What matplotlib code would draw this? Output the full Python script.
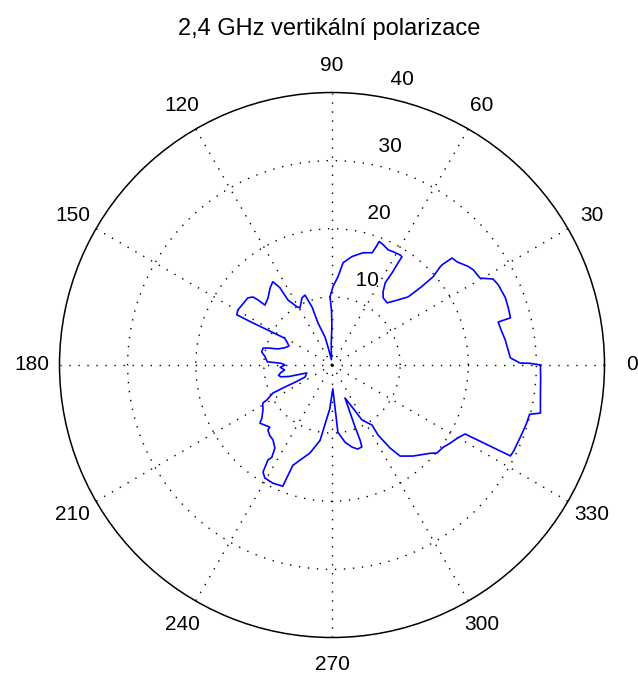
import numpy as np
import matplotlib.pyplot as plt
from matplotlib.transforms import offset_copy

# namerene hodnoty (uhel ve stupnich, zisk)
uhel = [0, 0.5, 0.6, 2.3, 8.2, 12.4, 14.5, 14.8, 17.9, 21.2, 22.9, 25.7, 28.1,
        30.4, 34, 35.8, 39.5, 41.7, 42.3, 42.2, 41.1, 41.2, 41.8, 44.6, 48.4,
        52.7, 55.1, 57.1, 56.9, 57.1, 57.1, 58.3, 61.6, 64, 67, 69.1, 69.5,
        70.3, 74.5, 79.5, 83.8, 86.1, 89.3, 91.7, 90.5, 90.2, 92, 96, 102.5,
        104, 108.4, 109, 111.1, 114.1, 119.3, 121.1, 124.1, 124, 125.4, 128.8,
        133.7, 138.2, 138.7, 139.3, 141.4, 149.7, 152.2, 152, 150.5, 153,
        156.2, 160.1, 163.5, 165.1, 166.2, 169.5, 173, 177.2, 178, 180, 182.5,
        186, 188.5, 191, 193, 195, 196, 197.4, 204, 205, 205.1, 205.4, 208.3,
        208.8, 213.1, 217.1, 218.9, 225, 225.4, 228.5, 231.8, 235.5, 236.9,
        236, 237.2, 239.3, 243.4, 247.9, 248.7, 256, 261, 267, 272, 275,
        277.8, 279.6, 283.7, 287, 290, 290.5, 290.4, 291.5, 295.5, 298.6,
        303.7, 303.3, 305, 306.8, 311.7, 318.1, 320, 323.5, 326.5, 329.7,
        332.6, 333, 334.6, 339, 343, 346, 347, 352, 356, 360]
zisk = [30.6, 29.0, 27.6, 26.2, 25.7, 25.3, 25.2, 27.1, 27.2, 27.3, 27.2, 27.1,
        26.8, 25.2, 25.0, 24.7, 23.8, 23.6, 21.9, 21.4, 19.7, 17.2, 15.0, 13.6,
        12.2, 12.4, 13.1, 14.4, 16.2, 17.9, 18.9, 19.0, 18.9, 18.8, 19.2, 19.4,
        18.6, 17.5, 17.1, 16.2, 15.1, 13.0, 11.5, 10.0, 8.0, 5.6, 3.2, 0.8,
        2.7, 4.2, 6.5, 9.0, 11.0, 10.8, 9.6, 10.0, 11.5, 13.7, 15.0, 14.5,
        13.6, 13.2, 14.5, 15.3, 15.8, 16.0, 15.8, 13.2, 8.0, 7.4, 6.9, 7.4,
        8.3, 9.7, 10.4, 10.5, 9.9, 9.5, 7.5, 6.9, 7.6, 7.0, 7.6, 8.0, 7.7,
        6.5, 5.0, 3.9, 4.3, 5.8, 8.0, 9.6, 10.9, 11.6, 12.1, 12.9, 13.6, 12.9,
        13.4, 13.8, 14.0, 14.8, 16.2, 16.8, 18.7, 19.3, 19.4, 19.2, 15.8,
        13.3, 11.2, 6.5, 3.5, 9.9, 10.8, 11.5, 12.4, 12.9, 12.8, 11.8, 9.7,
        5.2, 6.8, 9.2, 10.6, 12.3, 14.9, 16.7, 17.9, 19.4, 20.1, 20.3, 20.8,
        21.3, 22.0, 29.4, 29.5, 29.6, 29.8, 29.9, 31.4, 30.9, 30.7, 30.6]

popisky_uhlu = [0, 30, 60, 90, 120, 150, 180, 210, 240, 270, 300, 330]
kruhy = [10, 20, 30, 40]

plt.rcParams['font.family'] = ['Liberation Sans', 'DejaVu Sans']

fig = plt.figure(figsize=(6.38, 6.74), dpi=100)
ax = fig.add_axes([59.5 / 638, 36.5 / 674, 545 / 638, 545 / 674], projection='polar')

ax.plot(np.deg2rad(uhel), zisk, color='#0000ff', lw=1.2)
ax.set_ylim(0, 40)

ax.set_xticks(np.deg2rad(popisky_uhlu))
ax.set_xticklabels([])
ax.set_yticks(kruhy[:-1])
ax.set_yticklabels([])
ax.tick_params(length=0)
ax.grid(True, color='k', linestyle=(0, (1, 5.5)), lw=1.0)
ax.spines['polar'].set_linewidth(1.1)

for a in popisky_uhlu:
    ax.text(np.deg2rad(a), 44, str(a), ha='center', va='center', fontsize=15)

# popisky kruhu o kousek vys
posun = offset_copy(ax.transData, fig=fig, y=8, units='dots')
for k in kruhy:
    ax.text(np.deg2rad(80), k, '  ' + str(k), ha='left', va='bottom',
            fontsize=15, transform=posun)

fig.text(329 / 638, 0.9488, '2,4 GHz vertikální polarizace', ha='center',
         va='baseline', fontsize=17)

fig.savefig('out.png', dpi=100)
